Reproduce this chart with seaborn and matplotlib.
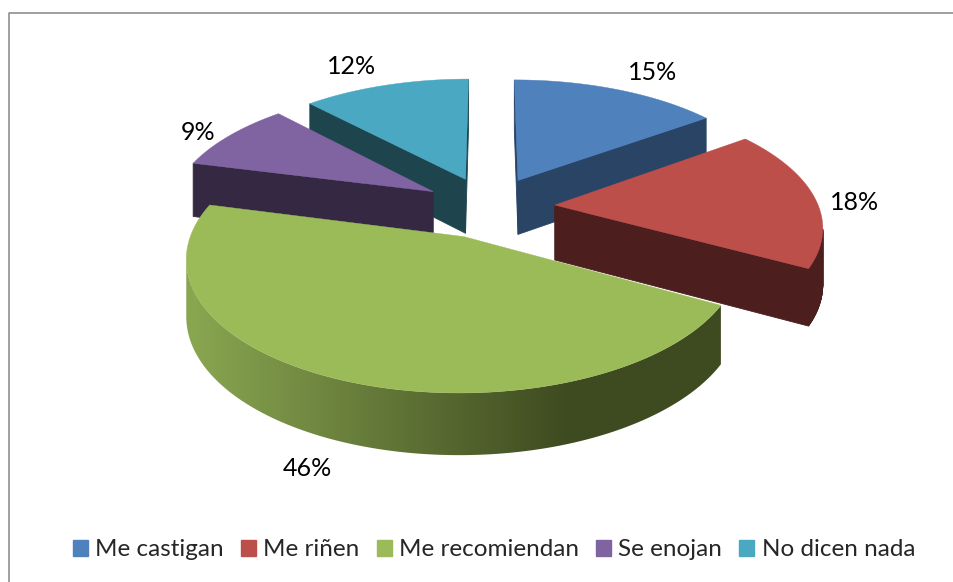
import numpy as np
import matplotlib.pyplot as plt
import matplotlib.patches as mpatches
import seaborn as sns

categories = ["Me castigan", "Me riñen", "Me recomiendan", "Se enojan", "No dicen nada"]
values = [15, 18, 46, 9, 12]
labels = ["15%", "18%", "46%", "9%", "12%"]

top_colors = ["#4f81bd", "#bd4f4b", "#9bbb59", "#8064a2", "#4aa8c2"]
wall_colors = ["#2a4465", "#4d1e1e", None, "#352842", "#1e444e"]

sns.set_theme(style="white")
plt.rcParams['font.family'] = ['Lato', 'DejaVu Sans']

# pie geometry in pixels of the 954x582 picture
cx, cy = 489, 207
rx, ry = 264, 123
persp = 0.15
explode = 0.25
depth = 55

label_pos = [(653, 73), (855, 202), (307, 468), (198, 132), (352, 66)]
draw_order = [0, 4, 3, 1, 2]  # back slices first

green_ramp = sns.blend_palette(["#88a550", "#3e4a20"], as_cmap=True)


def project(u, v):
    w = 1 / (1 - persp * v)
    return cx + rx * u * w, cy + ry * v * w, w


fig, ax = plt.subplots(figsize=(9.54, 5.82), dpi=100)
fig.subplots_adjust(0, 0, 1, 1)
ax.axis("off")

# chart frame, only top and left fall inside the picture
ax.plot([9, 9, 954], [582, 13, 13], color="#868686", lw=1.1)

edges = np.cumsum([0] + values) / sum(values) * 2 * np.pi
z = 2

for i in draw_order:
    start, end = edges[i], edges[i + 1]
    mid = (start + end) / 2
    ou, ov = explode * np.sin(mid), -explode * np.cos(mid)

    thetas = np.linspace(start, end, 200)
    xs, ys, ws = project(ou + np.sin(thetas), ov - np.cos(thetas))
    ax0, ay0, aw0 = project(ou, ov)
    xs = np.concatenate([[ax0], xs, [ax0]])
    ys = np.concatenate([[ay0], ys, [ay0]])
    ws = np.concatenate([[aw0], ws, [aw0]])
    drops = depth * ws ** 0.6

    # walk the outline, edges heading left on screen face the viewer
    facing = [k for k in range(len(xs) - 1) if xs[k + 1] < xs[k] - 1e-6]
    if wall_colors[i] is None:
        # curved wall of the big slice, shaded from left to right
        idx = np.array(facing + [facing[-1] + 1])
        px = np.concatenate([xs[idx], xs[idx][::-1]])
        py = np.concatenate([ys[idx], (ys[idx] + drops[idx])[::-1]])
        clip = plt.Polygon(np.column_stack([px, py]), transform=ax.transData, fc="none", ec="none")
        ax.add_patch(clip)
        grid = np.clip((np.linspace(180, 740, 560) - 195) / (570 - 195), 0, 1)
        im = ax.imshow(grid[None, :], extent=(180, 740, 480, 180), aspect="auto",
                       cmap=green_ramp, vmin=0, vmax=1, zorder=z)
        im.set_clip_path(clip)
    else:
        for k in facing:
            ax.fill([xs[k], xs[k + 1], xs[k + 1], xs[k]],
                    [ys[k], ys[k + 1], ys[k + 1] + drops[k + 1], ys[k] + drops[k]],
                    color=wall_colors[i], lw=0.6, zorder=z)
    ax.fill(xs, ys, color=top_colors[i], lw=0.3, zorder=z + 0.5)
    z += 1

ax.set_xlim(0, 954)
ax.set_ylim(582, 0)

for lab, (x, y) in zip(labels, label_pos):
    ax.text(x, y, lab, ha="center", va="center", fontsize=18, color="black", zorder=10)

handles = [mpatches.Patch(color=c, label=n) for c, n in zip(top_colors, categories)]
ax.legend(handles=handles, loc="center", bbox_to_anchor=(494 / 954, 1 - 550 / 582),
          ncol=5, frameon=False, fontsize=17.5, handlelength=0.62, handleheight=0.62,
          handletextpad=0.3, columnspacing=0.7, borderpad=0)

plt.savefig("out.png", dpi=100)
